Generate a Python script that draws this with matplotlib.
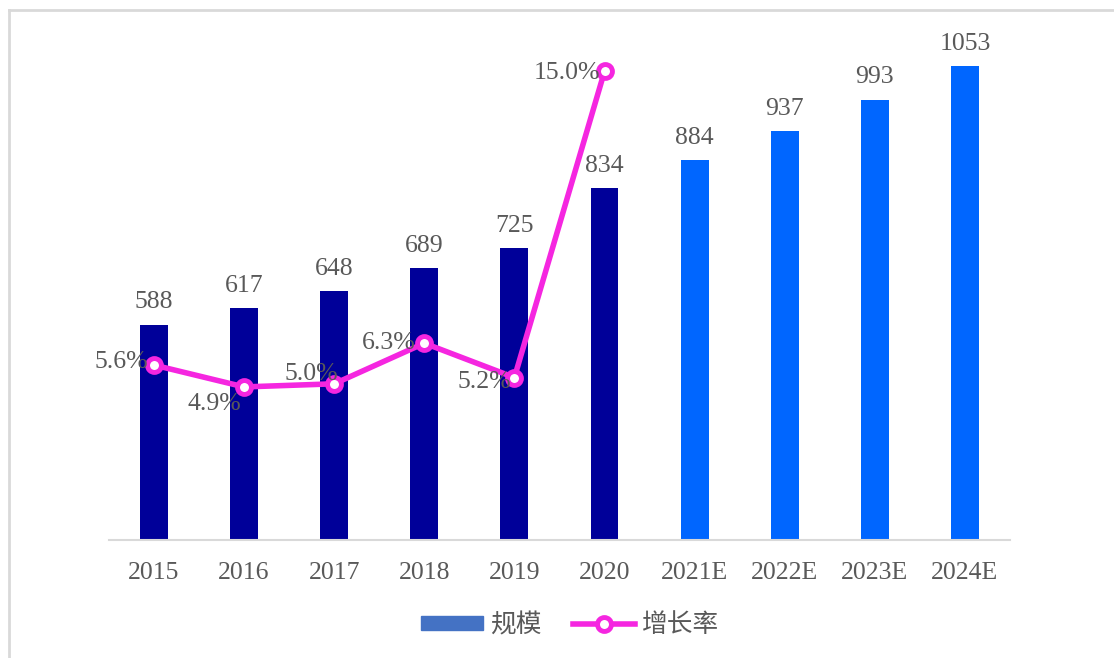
import matplotlib.pyplot as plt
from matplotlib.lines import Line2D
from matplotlib.patches import Patch

plt.rcParams['font.family'] = ['Liberation Serif', 'Noto Sans CJK SC', 'DejaVu Sans']

# 数据
years = ['2015', '2016', '2017', '2018', '2019', '2020', '2021E', '2022E', '2023E', '2024E']
scale = [588, 617, 648, 689, 725, 834, 884, 937, 993, 1053]
growth = [5.6, 4.9, 5.0, 6.3, 5.2, 15.0]
growth_labels = ['5.6%', '4.9%', '5.0%', '6.3%', '5.2%', '15.0%']

# 标签偏移 (像素)
label_offsets = [(-4, 2), (-2, -12), (3, 7), (-6, 0), (-2, -3), (-3, -1)]

dark = '#000099'
light = '#0066FF'
pink = '#F526E0'
txt = '#595959'
fs = 18.5

fig = plt.figure(figsize=(11.14, 6.58), dpi=100)
ax = fig.add_axes([0.0978, 0.1793, 0.8088, 0.7597])
ax2 = ax.twinx()

x = list(range(len(years)))
colors = [dark if not y.endswith('E') else light for y in years]
bars = ax.bar(x, scale, width=0.31, color=colors, zorder=2)
for xi, v in zip(x, scale):
    ax.annotate(str(v), (xi, v), xytext=(0, 8), textcoords='offset points',
                ha='center', va='bottom', fontsize=fs, color=txt)

ax.set_xlim(-0.5, len(years) - 0.5)
ax.set_ylim(200, 1100)
ax.set_yticks([])
ax.set_xticks(x)
ax.set_xticklabels(years, fontsize=fs, color=txt)
ax.tick_params(axis='x', length=0, pad=16)
for s in ['top', 'right', 'left']:
    ax.spines[s].set_visible(False)
ax.spines['bottom'].set_color('#D9D9D9')
ax.spines['bottom'].set_linewidth(1.5)

gx = x[:len(growth)]
ax2.plot(gx, growth, color=pink, lw=4, marker='o', ms=10, mfc='white',
         mec=pink, mew=3.5, zorder=3)
for xi, v, lab, off in zip(gx, growth, growth_labels, label_offsets):
    ax2.annotate(lab, (xi, v), xytext=off, textcoords='offset points',
                 ha='right', va='center', fontsize=fs, color=txt)
ax2.set_ylim(0, 16)
ax2.set_yticks([])
for s in ['top', 'right', 'left', 'bottom']:
    ax2.spines[s].set_visible(False)

handles = [Patch(color='#4472C4'),
           Line2D([0], [0], color=pink, lw=4, marker='o', ms=10, mfc='white', mec=pink, mew=3.5)]
fig.legend(handles, ['规模', '增长率'], loc='center', bbox_to_anchor=(0.512, 0.05),
           ncol=2, frameon=False, handlelength=2.4, handleheight=0.5, columnspacing=1.2,
           handletextpad=0.3,
           prop={'family': ['Noto Sans CJK SC', 'DejaVu Sans'], 'size': fs}, labelcolor=txt)

# 外框
fig.add_artist(Line2D([0.008, 1.0], [0.985, 0.985], transform=fig.transFigure, color='#D9D9D9', lw=2))
fig.add_artist(Line2D([0.008, 0.008], [0.0, 0.985], transform=fig.transFigure, color='#D9D9D9', lw=2))

fig.savefig('out.png', dpi=100)
